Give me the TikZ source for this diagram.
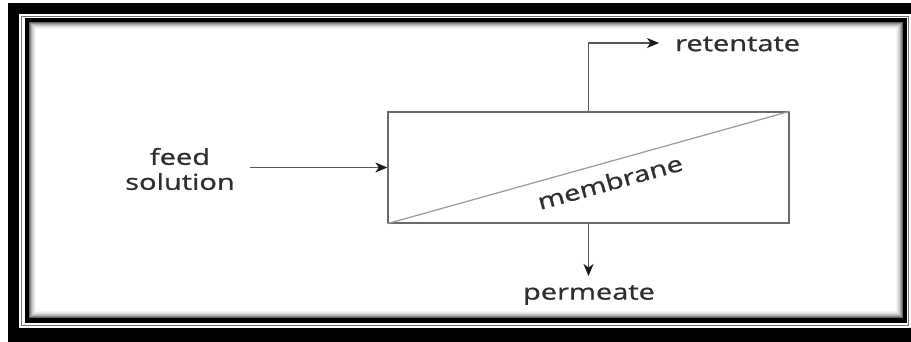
\documentclass[tikz,border=0pt]{standalone}
\usepackage{graphicx}
\usepackage{fontspec}
\setmainfont{Open Sans}
\newfontfamily\lblfont{Open Sans}[FakeBold=0.8]
\usetikzlibrary{arrows.meta}
\definecolor{txt}{HTML}{2E2E2E}
\definecolor{boxline}{HTML}{6A6A6A}
\definecolor{flow}{HTML}{555555}
\newcommand\widetext[1]{\scalebox{1.32}[1]{#1}}
\tikzset{
  lbl/.style={inner sep=0pt, text=txt, font=\lblfont\fontsize{22}{25}\selectfont},
  flowarrow/.style={draw=flow, line width=1.3pt, -{Stealth[length=12pt,width=10pt,inset=3.5pt,color=black!90]}},
  frameshade/.style={line width=1pt}
}
\begin{document}
\begin{tikzpicture}[x=1pt,y=-1pt]
\useasboundingbox (0,0) rectangle (911,342);
% frame
\fill[black] (8,3) rectangle (911,342);
\fill[white] (19,14) rectangle (911,328);
\draw[black!55, line width=1.2pt] (21.5,16.5) rectangle (908.5,325.5);
\draw[black, line width=4.5pt] (27,20) rectangle (905,320.5);
\foreach \i/\c in {0.5/60,1.5/45,2.5/32,3.5/22,4.5/14,5.5/8,6.5/4}{
  \draw[frameshade, black!\c] (29.25+\i,22.25+\i) rectangle (902.75-\i,318.25-\i);
}
% membrane module
\node[draw=boxline, line width=1.3pt, minimum width=401pt, minimum height=111pt, inner sep=0pt] (box) at (588.5,167.5) {};
\draw[black!40, line width=1.2pt] (box.south west) -- (box.north east);
\node[lbl, rotate=15.5] (mem) at (610,182) {\widetext{membrane}};
% feed
\node[lbl, align=center] (feed) at (180,169) {\widetext{feed}\\\widetext{solution}};
\coordinate (feedstart) at (250,167.5);
\draw[flowarrow] (feedstart) -- (box.west);
% retentate
\node[lbl, anchor=west] (ret) at (675,44) {\widetext{retentate}};
\coordinate (retend) at (659,43);
\draw[flowarrow] (box.north) |- (retend);
% permeate
\node[lbl] (perm) at (589,295) {\widetext{permeate}};
\coordinate (permend) at (588.5,276);
\draw[flowarrow] (box.south) -- (permend);
\end{tikzpicture}
\end{document}
